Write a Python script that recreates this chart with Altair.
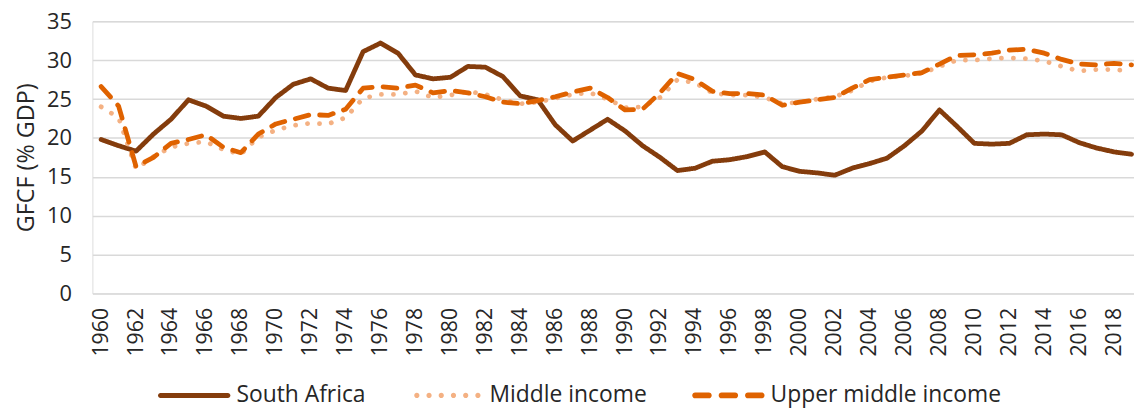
import altair as alt
import pandas as pd

years = list(range(1960, 2020))

south_africa = [19.8, 19.0, 18.3, 20.5, 22.4, 24.9, 24.1, 22.8, 22.5, 22.8,
                25.2, 26.9, 27.6, 26.4, 26.1, 31.1, 32.2, 30.9, 28.1, 27.6,
                27.8, 29.2, 29.1, 27.9, 25.4, 24.9, 21.7, 19.6, 21.0, 22.4,
                20.9, 19.0, 17.5, 15.8, 16.1, 17.0, 17.2, 17.6, 18.2, 16.3,
                15.7, 15.5, 15.2, 16.1, 16.7, 17.4, 19.0, 20.9, 23.6, 21.5,
                19.3, 19.2, 19.3, 20.4, 20.5, 20.4, 19.4, 18.7, 18.2, 17.9]

middle_income = [24.0, 22.6, 16.0, 17.6, 18.8, 19.3, 19.5, 18.5, 17.9, 20.1,
                 21.0, 21.6, 21.9, 21.8, 22.6, 25.1, 25.6, 25.6, 26.0, 25.2,
                 25.5, 26.0, 25.6, 24.9, 24.4, 24.6, 25.1, 25.6, 25.8, 25.0,
                 23.9, 24.0, 25.2, 27.5, 27.1, 25.8, 25.5, 25.5, 25.2, 24.4,
                 24.6, 25.0, 25.3, 26.1, 27.3, 27.8, 28.0, 28.3, 29.2, 30.0,
                 30.0, 30.2, 30.3, 30.2, 29.9, 29.2, 28.6, 28.8, 28.8, 28.6]

upper_middle_income = [26.6, 24.1, 16.3, 17.5, 19.3, 19.8, 20.4, 18.8, 18.1, 20.5,
                       21.8, 22.4, 23.0, 22.9, 23.7, 26.4, 26.6, 26.4, 26.8, 25.8,
                       26.1, 25.8, 25.3, 24.6, 24.4, 24.8, 25.3, 25.9, 26.4, 25.2,
                       23.6, 23.7, 25.8, 28.3, 27.5, 26.0, 25.7, 25.7, 25.5, 24.2,
                       24.6, 24.9, 25.2, 26.4, 27.5, 27.8, 28.1, 28.4, 29.5, 30.6,
                       30.7, 30.9, 31.3, 31.4, 30.9, 30.1, 29.5, 29.4, 29.6, 29.4]

series_names = ["South Africa", "Middle income", "Upper middle income"]
series_colors = ["#843C0C", "#F4B183", "#DF6200"]
series_dashes = [[1, 0], [0.1, 12], [14, 11]]
x_tick_years = list(range(1960, 2019, 2))
y_ticks = [0, 5, 10, 15, 20, 25, 30, 35]


# legend swatch shapes (unit-square SVG paths): solid bar, row of dots, three dashes
def _pill(x0, x1, r):
    return (f"M{x0 + r},{-r} L{x1 - r},{-r} A{r},{r} 0 0 1 {x1 - r},{r} "
            f"L{x0 + r},{r} A{r},{r} 0 0 1 {x0 + r},{-r} Z")


def _dot(cx, r):
    return f"M{cx - r},0 A{r},{r} 0 1 0 {cx + r},0 A{r},{r} 0 1 0 {cx - r},0 Z"


solid_shape = _pill(-1.0, 1.0, 0.068)
dots_shape = " ".join(_dot(c, 0.072) for c in [-0.845, -0.507, -0.169, 0.169, 0.507, 0.845])
dash_shape = " ".join(_pill(a, b, 0.08) for a, b in [(-1.0, -0.461), (-0.269, 0.269), (0.461, 1.0)])
legend_shapes = [solid_shape, dots_shape, dash_shape]

rows = []
for name, vals in zip(series_names, [south_africa, middle_income, upper_middle_income]):
    for yr, v in zip(years, vals):
        rows.append({"year": yr, "value": v, "series": name})
df = pd.DataFrame(rows)

FONT = "Open Sans"
TEXT = "#262626"

x_enc = alt.X("year:Q",
              scale=alt.Scale(domain=[1959.5, 2019.14], nice=False, zero=False),
              axis=alt.Axis(values=x_tick_years, format="d", labelAngle=270, grid=False,
                            domain=False, ticks=False, title=None, labelPadding=14,
                            labelFontSize=21.5, labelFont=FONT, labelColor=TEXT,
                            labelOverlap=False, labelFlush=False))
y_enc = alt.Y("value:Q",
              scale=alt.Scale(domain=[0, 35], nice=False),
              axis=alt.Axis(values=y_ticks, grid=True, gridColor="#D9D9D9", gridWidth=1.5,
                            domain=False, ticks=False, labelPadding=21,
                            labelFontSize=22, labelFont=FONT, labelColor=TEXT,
                            title="GFCF (% GDP)", titleFontSize=23.5, titleFont=FONT,
                            titleColor=TEXT, titleFontWeight="normal", titlePadding=8))

lines = alt.Chart(df).mark_line(strokeWidth=4.8, strokeCap="round", strokeJoin="round").encode(
    x=x_enc,
    y=y_enc,
    color=alt.Color("series:N", scale=alt.Scale(domain=series_names, range=series_colors),
                    legend=None),
    strokeDash=alt.StrokeDash("series:N",
                              scale=alt.Scale(domain=series_names, range=series_dashes),
                              legend=None),
)

legend = alt.Legend(
    title=None,
    orient="none",
    legendX=66,
    legendY=340,
    direction="horizontal",
    symbolSize=5300,
    symbolStrokeWidth=0,
    symbolOpacity=1,
    labelFontSize=23,
    labelFont=FONT,
    labelColor=TEXT,
    labelOffset=6,
    columnPadding=45,
    labelLimit=400,
)

legend_layer = alt.Chart(df).transform_filter("datum.year < 0").mark_point(
    filled=True, opacity=1, size=5300
).encode(
    color=alt.Color("series:N", scale=alt.Scale(domain=series_names, range=series_colors),
                    legend=legend),
    shape=alt.Shape("series:N", scale=alt.Scale(domain=series_names, range=legend_shapes),
                    legend=legend),
)

chart = alt.layer(lines, legend_layer).resolve_scale(
    color="independent", shape="independent"
).resolve_legend(
    color="independent", shape="independent"
).properties(
    width=1049,
    height=274,
    padding={"left": 85, "top": 12, "right": 0, "bottom": 114},
    autosize=alt.AutoSizeParams(type="none"),
).configure_view(stroke=None).configure(background="white")

chart.save("out.html", embed_options={"renderer": "svg", "actions": False})
